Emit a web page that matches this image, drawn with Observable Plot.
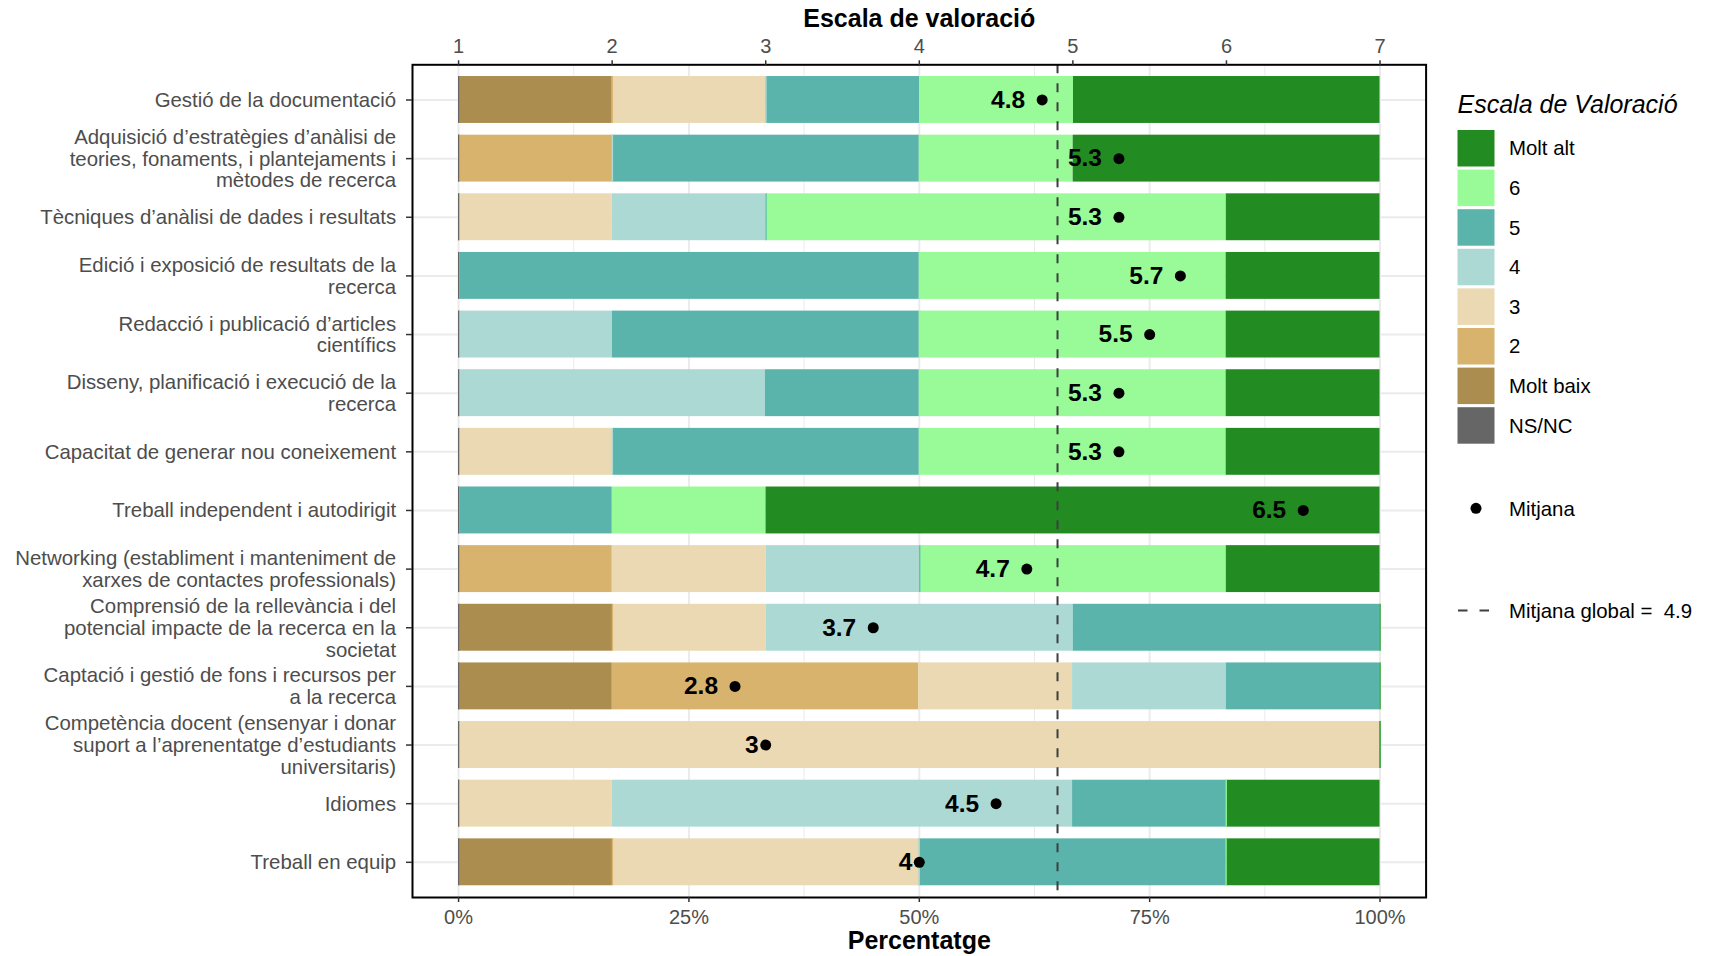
<!DOCTYPE html>
<html><head><meta charset="utf-8">
<script src="https://cdn.jsdelivr.net/npm/d3@7"></script>
<script src="https://cdn.jsdelivr.net/npm/@observablehq/plot@0.6"></script>
<style>
body{margin:0;background:#fff;}
#chart{position:relative;width:1709px;height:956px;font-family:"Liberation Sans",Arial,sans-serif;}
#chart svg{position:absolute;left:0;top:0;}
</style></head><body><div id="chart"></div>
<script>
const categories = [
  "Gestió de la documentació",
  "Adquisició d’estratègies d’anàlisi de\nteories, fonaments, i plantejaments i\nmètodes de recerca",
  "Tècniques d’anàlisi de dades i resultats",
  "Edició i exposició de resultats de la\nrecerca",
  "Redacció i publicació d’articles\ncientífics",
  "Disseny, planificació i execució de la\nrecerca",
  "Capacitat de generar nou coneixement",
  "Treball independent i autodirigit",
  "Networking (establiment i manteniment de\nxarxes de contactes professionals)",
  "Comprensió de la rellevància i del\npotencial impacte de la recerca en la\nsocietat",
  "Captació i gestió de fons i recursos per\na la recerca",
  "Competència docent (ensenyar i donar\nsuport a l’aprenentatge d’estudiants\nuniversitaris)",
  "Idiomes",
  "Treball en equip"
];
const levels = ["NS/NC", "Molt baix", "2", "3", "4", "5", "6", "Molt alt"];
const levelColors = ["#666666", "#AB8D50", "#D8B36D", "#EAD9B2", "#ADD9D5", "#5AB4AC", "#98FB98", "#228B22"];

// Percentage of answers per level (one value per category)
const pctNSNC     = [0, 0, 0, 0, 0, 0, 0, 0, 0, 0, 0, 0, 0, 0];
const pctMoltBaix = [16.7, 0, 0, 0, 0, 0, 0, 0, 0, 16.7, 16.7, 0, 0, 16.7];
const pct2        = [0, 16.7, 0, 0, 0, 0, 0, 0, 16.7, 0, 33.3, 0, 0, 0];
const pct3        = [16.7, 0, 16.7, 0, 0, 0, 16.7, 0, 16.7, 16.7, 16.7, 100, 16.7, 33.3];
const pct4        = [0, 0, 16.7, 0, 16.7, 33.3, 0, 0, 16.7, 33.3, 16.7, 0, 50, 0];
const pct5        = [16.7, 33.3, 0, 50, 33.3, 16.7, 33.3, 16.7, 0, 33.3, 16.7, 0, 16.7, 33.3];
const pct6        = [16.7, 16.7, 50, 33.3, 33.3, 33.3, 33.3, 16.7, 33.3, 0, 0, 0, 0, 0];
const pctMoltAlt  = [33.3, 33.3, 16.7, 16.7, 16.7, 16.7, 16.7, 66.7, 16.7, 0, 0, 0, 16.7, 16.7];

const means = [4.8, 5.3, 5.3, 5.7, 5.5, 5.3, 5.3, 6.5, 4.7, 3.7, 2.8, 3, 4.5, 4];
const globalMean = 4.9;

const scaleTicks = [1, 2, 3, 4, 5, 6, 7];
const pctTicks = [0, 25, 50, 75, 100];
const pctMinorTicks = [12.5, 37.5, 62.5, 87.5];

// ---- build tables
const pctByLevel = [pctNSNC, pctMoltBaix, pct2, pct3, pct4, pct5, pct6, pctMoltAlt];
const rows = [];
categories.forEach((cat, i) => {
  levels.forEach((lev, j) => rows.push({cat, level: lev, pct: pctByLevel[j][i]}));
});
const colorOf = Object.fromEntries(levels.map((l, j) => [l, levelColors[j]]));
const meanRows = categories.map((cat, i) => ({cat, mean: means[i]}));
const nsncRows = categories.map((cat, i) => ({cat, pct: pctNSNC[i]}));
const toX = v => (v - 1) / 6;

const FONT = '"Liberation Sans", Arial, sans-serif';
const gridColor = "#EBEBEB";

const plot = Plot.plot({
  width: 1709,
  height: 956,
  marginLeft: 412,
  marginRight: 283.4,
  marginTop: 64.3,
  marginBottom: 59,
  style: {fontFamily: FONT, fontSize: "20px", background: "white", overflow: "visible"},
  x: {domain: [-0.05, 1.05]},
  y: {domain: categories, padding: 0.2, round: false},
  color: {domain: levels, range: levelColors},
  marks: [
    Plot.gridX(pctMinorTicks.map(d => d / 100), {stroke: gridColor, strokeOpacity: 1, strokeWidth: 1}),
    Plot.gridX(pctTicks.map(d => d / 100), {stroke: gridColor, strokeOpacity: 1, strokeWidth: 2}),
    Plot.gridY({stroke: gridColor, strokeOpacity: 1, strokeWidth: 2}),
    Plot.barX(rows, Plot.stackX({x: "pct", y: "cat", fill: "level", offset: "normalize"})),
    Plot.tickX(rows, Plot.stackX1({
      x: "pct", y: "cat", z: "level", offset: "normalize",
      stroke: d => (d.pct === 0 && d.level !== "NS/NC") ? colorOf[d.level] : "none",
      strokeWidth: 1.2
    })),
    Plot.tickX(nsncRows, {x: 0, y: "cat", stroke: colorOf["NS/NC"], strokeWidth: 1.2}),
    Plot.ruleX([globalMean], {x: toX, stroke: "#3F3F3F", strokeWidth: 2, strokeDasharray: "9,10"}),
    Plot.dot(meanRows, {x: d => toX(d.mean), y: "cat", r: 5.5, fill: "black"}),
    Plot.text(meanRows, {
      filter: d => String(d.mean).length > 1,
      x: d => toX(d.mean), y: "cat", text: d => String(d.mean),
      textAnchor: "end", dx: -17, fontSize: 24.5, fontWeight: "bold", fill: "black"
    }),
    Plot.text(meanRows, {
      filter: d => String(d.mean).length === 1,
      x: d => toX(d.mean), y: "cat", text: d => String(d.mean),
      textAnchor: "end", dx: -7, fontSize: 24.5, fontWeight: "bold", fill: "black"
    }),
    Plot.frame({stroke: "black", strokeWidth: 2}),
    Plot.axisX(pctTicks.map(d => d / 100), {
      anchor: "bottom", label: null, tickSize: 5, tickPadding: 7,
      tickFormat: d => `${Math.round(d * 100)}%`,
      fontSize: 20, fill: "#4D4D4D", stroke: "#333333", strokeWidth: 1.5
    }),
    Plot.axisX(scaleTicks.map(toX), {
      anchor: "top", label: null, tickSize: 5, tickPadding: 7,
      tickFormat: d => String(Math.round(d * 6 + 1)),
      fontSize: 20, fill: "#4D4D4D", stroke: "#333333", strokeWidth: 1.5
    }),
    Plot.axisY({
      label: null, tickSize: 6, tickFormat: () => "",
      stroke: "#333333", strokeWidth: 1.5
    }),
    Plot.text(categories, {
      y: d => d, text: d => d, frameAnchor: "left", textAnchor: "end",
      dx: -16.4, fontSize: 20.4, lineHeight: 1.07, fill: "#4D4D4D"
    }),
    Plot.text(["Escala de valoració"], {
      text: d => d, frameAnchor: "top", lineAnchor: "bottom", dy: -37.6,
      fontSize: 25, fontWeight: "bold", fill: "black"
    }),
    Plot.text(["Percentatge"], {
      text: d => d, frameAnchor: "bottom", lineAnchor: "bottom", dy: 51.3,
      fontSize: 25, fontWeight: "bold", fill: "black"
    })
  ]
});
document.getElementById("chart").appendChild(plot);

// ---- legend
const legendLevels = levels.slice().reverse();
const leg = d3.select("#chart").append("svg")
  .attr("width", 1709).attr("height", 956)
  .style("font-family", FONT)
  .style("pointer-events", "none");
const LX = 1457.5, KW = 37, KH = 36.5, KY0 = 130, KSTEP = 39.6, TX = 1509;
leg.append("text").attr("x", LX).attr("y", 113.3)
  .attr("font-size", 25).attr("font-style", "italic").attr("fill", "#000")
  .text("Escala de Valoració");
legendLevels.forEach((l, i) => {
  const y = KY0 + i * KSTEP;
  leg.append("rect").attr("x", LX).attr("y", y).attr("width", KW).attr("height", KH)
    .attr("fill", colorOf[l]);
  leg.append("text").attr("x", TX).attr("y", y + KH / 2 + 7.2)
    .attr("font-size", 20.4).attr("fill", "#000").text(l);
});
leg.append("circle").attr("cx", 1476).attr("cy", 508.3).attr("r", 5.5).attr("fill", "#000");
leg.append("text").attr("x", TX).attr("y", 508.3 + 7.2)
  .attr("font-size", 20.4).attr("fill", "#000").text("Mitjana");
leg.append("line").attr("x1", 1458).attr("x2", 1495).attr("y1", 610.5).attr("y2", 610.5)
  .attr("stroke", "#3F3F3F").attr("stroke-width", 2).attr("stroke-dasharray", "9.5,12");
leg.append("text").attr("x", TX).attr("y", 610.5 + 7.2)
  .attr("font-size", 20.4).attr("fill", "#000").style("white-space", "pre")
  .text(`Mitjana global =  ${globalMean}`);
</script>
</body></html>
